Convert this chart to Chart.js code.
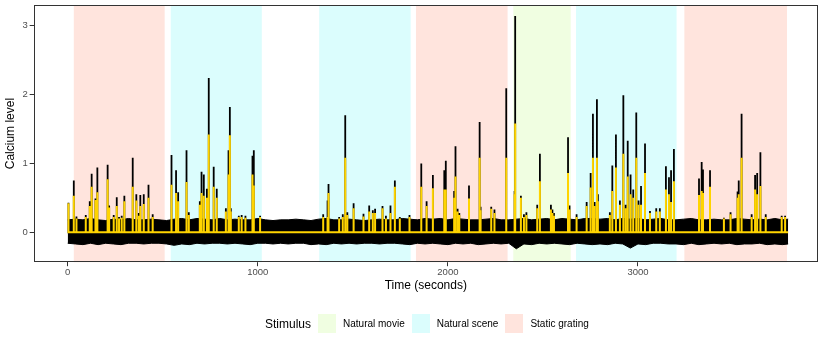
<!DOCTYPE html>
<html>
<head>
<meta charset="utf-8">
<script src="https://cdn.jsdelivr.net/npm/chart.js@4/dist/chart.umd.min.js"></script>
<style>
  body { margin: 0; background: #fff; font-family: "Liberation Sans", Arial, sans-serif; }
  #wrap { position: relative; width: 830px; height: 346px; }
  #legend { position: absolute; left: 265px; top: 314px; height: 19px; display: flex; align-items: center; color: #000; }
  #legend .title { font-size: 12px; margin-right: 7px; }
  #legend .sw { width: 18px; height: 19px; margin-right: 7px; }
  #legend .lab { font-size: 10px; margin-right: 7px; }
</style>
</head>
<body>
<div id="wrap">
  <canvas id="calcium" width="830" height="346"></canvas>
  <div id="legend"></div>
</div>
<script>
// stimulus blocks (seconds)
const stimStart = [32, 542, 1323, 1832, 2344, 2674, 3244];
const stimEnd = [510, 1021, 1804, 2314, 2646, 3203, 3784];
const stimType = ['Static grating', 'Natural scene', 'Natural scene', 'Static grating', 'Natural movie', 'Natural scene', 'Static grating'];
const stimNames = ['Natural movie', 'Natural scene', 'Static grating'];
const stimColours = ['#F0FEE1', '#DBFDFD', '#FFE4DD'];

// baseline noise envelope, one value every 40 s from 0 to 3800
const noiseUpper = [0.18, 0.19, 0.18, 0.2, 0.18, 0.17, 0.19, 0.18, 0.2, 0.18,
  0.18, 0.19, 0.18, 0.17, 0.19, 0.2, 0.18, 0.2, 0.19, 0.18,
  0.2, 0.18, 0.19, 0.18, 0.18, 0.2, 0.18, 0.17, 0.18, 0.18,
  0.19, 0.18, 0.17, 0.19, 0.2, 0.18, 0.18, 0.19, 0.18, 0.17,
  0.18, 0.19, 0.18, 0.18, 0.2, 0.19, 0.18, 0.2, 0.19, 0.2,
  0.18, 0.2, 0.19, 0.18, 0.18, 0.19, 0.2, 0.18, 0.18, 0.19,
  0.2, 0.18, 0.19, 0.2, 0.18, 0.2, 0.19, 0.18, 0.2, 0.2,
  0.19, 0.2, 0.18, 0.2, 0.19, 0.2, 0.18, 0.19, 0.2, 0.18,
  0.18, 0.19, 0.2, 0.18, 0.18, 0.19, 0.18, 0.18, 0.2, 0.19,
  0.18, 0.19, 0.18, 0.2, 0.18, 0.19];
const noiseLower = [-0.16, -0.17, -0.18, -0.16, -0.18, -0.16, -0.17, -0.18, -0.16, -0.16,
  -0.17, -0.16, -0.16, -0.17, -0.19, -0.17, -0.18, -0.16, -0.17, -0.16,
  -0.16, -0.17, -0.16, -0.17, -0.18, -0.16, -0.16, -0.17, -0.16, -0.17,
  -0.16, -0.16, -0.18, -0.17, -0.18, -0.16, -0.17, -0.16, -0.17, -0.16,
  -0.16, -0.17, -0.16, -0.16, -0.17, -0.18, -0.16, -0.17, -0.16, -0.17,
  -0.18, -0.16, -0.17, -0.16, -0.18, -0.17, -0.16, -0.17, -0.16, -0.24,
  -0.17, -0.18, -0.16, -0.17, -0.16, -0.17, -0.18, -0.16, -0.17, -0.18,
  -0.17, -0.18, -0.16, -0.17, -0.23, -0.17, -0.18, -0.16, -0.16, -0.17,
  -0.17, -0.18, -0.16, -0.18, -0.17, -0.16, -0.17, -0.16, -0.18, -0.17,
  -0.17, -0.16, -0.18, -0.17, -0.18, -0.17];

// transients: time, peak of the raw trace (black), peak of the event trace (yellow)
const spikeTime = [4, 32, 46, 95, 116, 126, 146, 156, 210, 218, 242, 258, 270, 284, 298, 342, 361, 374, 382, 400, 425, 447,
  546, 570, 581, 625, 637, 695, 704, 716, 732, 742, 768, 784, 832, 846, 853, 858, 900, 915, 935, 972, 979, 1012,
  1344, 1367, 1372, 1428, 1447, 1460, 1471, 1504, 1556, 1586, 1605, 1617, 1656, 1674, 1698, 1721, 1747, 1798,
  1860, 1888, 1921, 1981, 1989, 2033, 2040, 2051, 2060, 2111, 2167, 2172, 2228, 2245, 2307,
  2351, 2354, 2384, 2400, 2413, 2470, 2484, 2542, 2550, 2558, 2632, 2640,
  2677, 2730, 2751, 2763, 2772, 2784, 2789, 2852, 2865, 2884, 2905, 2923, 2935, 2946, 2961, 2975, 2991, 3003, 3016, 3037, 3063, 3096, 3115, 3147, 3163, 3174, 3189,
  3321, 3335, 3342, 3379, 3452, 3487, 3524, 3530, 3545, 3598, 3616, 3627, 3644, 3672, 3756, 3774];
const spikePeak = [0.43, 0.75, 0.23, 0.25, 0.45, 0.85, 0.49, 0.94, 0.98, 0.39, 0.25, 0.51, 0.22, 0.24, 0.53, 1.08, 0.55, 0.28, 0.54, 0.55, 0.69, 0.26,
  1.12, 0.9, 0.58, 1.19, 0.29, 0.45, 0.88, 0.84, 0.63, 2.24, 0.95, 0.63, 0.35, 1.19, 1.82, 0.35, 0.24, 0.25, 0.24, 1.11, 1.19, 0.24,
  0.26, 0.46, 0.7, 0.22, 0.26, 1.7, 0.29, 0.42, 0.27, 0.39, 0.32, 0.34, 0.38, 0.24, 0.39, 0.75, 0.22, 0.25,
  1.0, 0.45, 0.83, 0.9, 1.04, 0.6, 1.25, 0.34, 0.28, 0.68, 1.6, 0.37, 0.37, 0.33, 2.09,
  0.6, 3.14, 0.53, 0.26, 0.29, 0.4, 1.14, 0.4, 0.33, 0.28, 1.38, 0.39,
  0.26, 0.44, 0.86, 1.72, 0.44, 1.93, 0.55, 0.29, 0.97, 1.42, 0.46, 1.99, 0.4, 1.33, 0.84, 0.62, 1.74, 0.46, 0.67, 1.29, 0.31, 0.35, 0.35, 0.96, 0.8, 0.9, 1.21,
  0.78, 1.02, 0.91, 0.9, 0.21, 0.29, 0.59, 0.75, 1.72, 0.26, 0.83, 0.86, 1.16, 0.26, 0.24, 0.24];
const eventPeak = [0.42, 0.53, 0.2, 0.22, 0.38, 0.66, 0.47, 0.58, 0.77, 0.36, 0.22, 0.38, 0.2, 0.21, 0.45, 0.66, 0.46, 0.24, 0.38, 0.41, 0.5, 0.22,
  0.69, 0.57, 0.45, 0.73, 0.25, 0.4, 0.57, 0.53, 0.5, 1.42, 0.66, 0.5, 0.3, 0.84, 1.41, 0.3, 0.22, 0.22, 0.21, 0.84, 0.68, 0.22,
  0.22, 0.22, 0.57, 0.2, 0.22, 1.08, 0.25, 0.35, 0.23, 0.3, 0.28, 0.28, 0.35, 0.2, 0.28, 0.66, 0.2, 0.22,
  0.66, 0.38, 0.64, 0.62, 0.62, 0.5, 0.81, 0.3, 0.25, 0.49, 1.08, 0.32, 0.34, 0.28, 1.08,
  0.55, 1.58, 0.5, 0.22, 0.25, 0.35, 0.74, 0.33, 0.28, 0.24, 0.86, 0.33,
  0.22, 0.38, 0.65, 1.08, 0.38, 1.08, 0.45, 0.25, 0.6, 0.94, 0.4, 1.14, 0.35, 0.81, 0.55, 0.5, 1.08, 0.4, 0.4, 0.86, 0.28, 0.3, 0.3, 0.62, 0.55, 0.44, 0.74,
  0.54, 0.6, 0.57, 0.66, 0.2, 0.26, 0.5, 0.55, 1.08, 0.22, 0.62, 0.55, 0.67, 0.22, 0.22, 0.22];

const xTicks = [0, 1000, 2000, 3000];
const yTicks = [0, 1, 2, 3];
const traceEnd = 3790;

const upperData = noiseUpper.map((v, i) => ({ x: Math.min(i * 40, traceEnd), y: v }));
const lowerData = noiseLower.map((v, i) => ({ x: Math.min(i * 40, traceEnd), y: v }));
const rawSpikes = spikeTime.flatMap((t, i) => [{ x: t, y: 0 }, { x: t, y: spikePeak[i] }, { x: t, y: 0 }]);
const events = [{ x: 0, y: 0 }].concat(
  spikeTime.flatMap((t, i) => [{ x: t, y: 0 }, { x: t, y: eventPeak[i] }, { x: t, y: 0 }]),
  [{ x: traceEnd, y: 0 }]);

// shaded stimulus periods behind the trace
const stimBands = {
  id: 'stimBands',
  beforeDatasetsDraw(chart) {
    const { ctx, chartArea, scales } = chart;
    ctx.save();
    stimStart.forEach((s, i) => {
      const x0 = scales.x.getPixelForValue(s);
      const x1 = scales.x.getPixelForValue(stimEnd[i]);
      ctx.fillStyle = stimColours[stimNames.indexOf(stimType[i])];
      ctx.fillRect(x0, chartArea.top, x1 - x0, chartArea.bottom - chartArea.top);
    });
    ctx.restore();
  }
};
// panel border like theme_bw
const panelBox = {
  id: 'panelBox',
  afterDraw(chart) {
    const { ctx, chartArea: a } = chart;
    ctx.save();
    ctx.strokeStyle = '#333333';
    ctx.lineWidth = 1;
    ctx.strokeRect(Math.round(a.left) + 0.5, Math.round(a.top) + 0.5, Math.round(a.right - a.left) - 1, Math.round(a.bottom - a.top) - 1);
    ctx.restore();
  }
};

const tickFont = { family: '"Liberation Sans", Arial, sans-serif', size: 9.5 };
const titleFont = { family: '"Liberation Sans", Arial, sans-serif', size: 12 };

new Chart(document.getElementById('calcium').getContext('2d'), {
  type: 'line',
  data: {
    datasets: [
      { data: events, borderColor: '#FFD400', borderWidth: 2, order: 0 },
      { data: rawSpikes, borderColor: '#000000', borderWidth: 1.8, order: 1 },
      { data: upperData, borderColor: '#000000', borderWidth: 1, backgroundColor: '#000000', fill: 'origin', order: 2 },
      { data: lowerData, borderColor: '#000000', borderWidth: 1, backgroundColor: '#000000', fill: 'origin', order: 3 }
    ]
  },
  options: {
    responsive: false,
    animation: false,
    parsing: false,
    elements: { point: { radius: 0 }, line: { tension: 0, borderJoinStyle: 'miter' } },
    layout: { padding: { left: 3, right: 12, top: 5, bottom: 53 } },
    plugins: { legend: { display: false }, tooltip: { enabled: false } },
    scales: {
      x: {
        type: 'linear', min: -179, max: 3947,
        afterBuildTicks: s => { s.ticks = xTicks.map(v => ({ value: v })); },
        grid: { drawOnChartArea: false, color: '#333333', tickLength: 4 },
        border: { display: false },
        ticks: { color: '#4d4d4d', font: tickFont, padding: 0, maxRotation: 0, callback: v => String(v) },
        title: { display: true, text: 'Time (seconds)', color: '#000', font: titleFont, padding: { top: 1, bottom: 0 } }
      },
      y: {
        type: 'linear', min: -0.435, max: 3.3,
        afterBuildTicks: s => { s.ticks = yTicks.map(v => ({ value: v })); },
        afterFit: s => { s.paddingTop = 0; s.paddingBottom = 0; },
        grid: { drawOnChartArea: false, color: '#333333', tickLength: 4 },
        border: { display: false },
        ticks: { color: '#4d4d4d', font: tickFont, padding: 2, callback: v => String(v) },
        title: { display: true, text: 'Calcium level', color: '#000', font: titleFont, padding: { top: 0, bottom: 3 } }
      }
    }
  },
  plugins: [stimBands, panelBox]
});

// legend in ggplot style
const legend = document.getElementById('legend');
legend.innerHTML = '<span class="title">Stimulus</span>' +
  stimNames.map((n, i) => '<span class="sw" style="background:' + stimColours[i] + '"></span><span class="lab">' + n + '</span>').join('');
</script>
</body>
</html>
